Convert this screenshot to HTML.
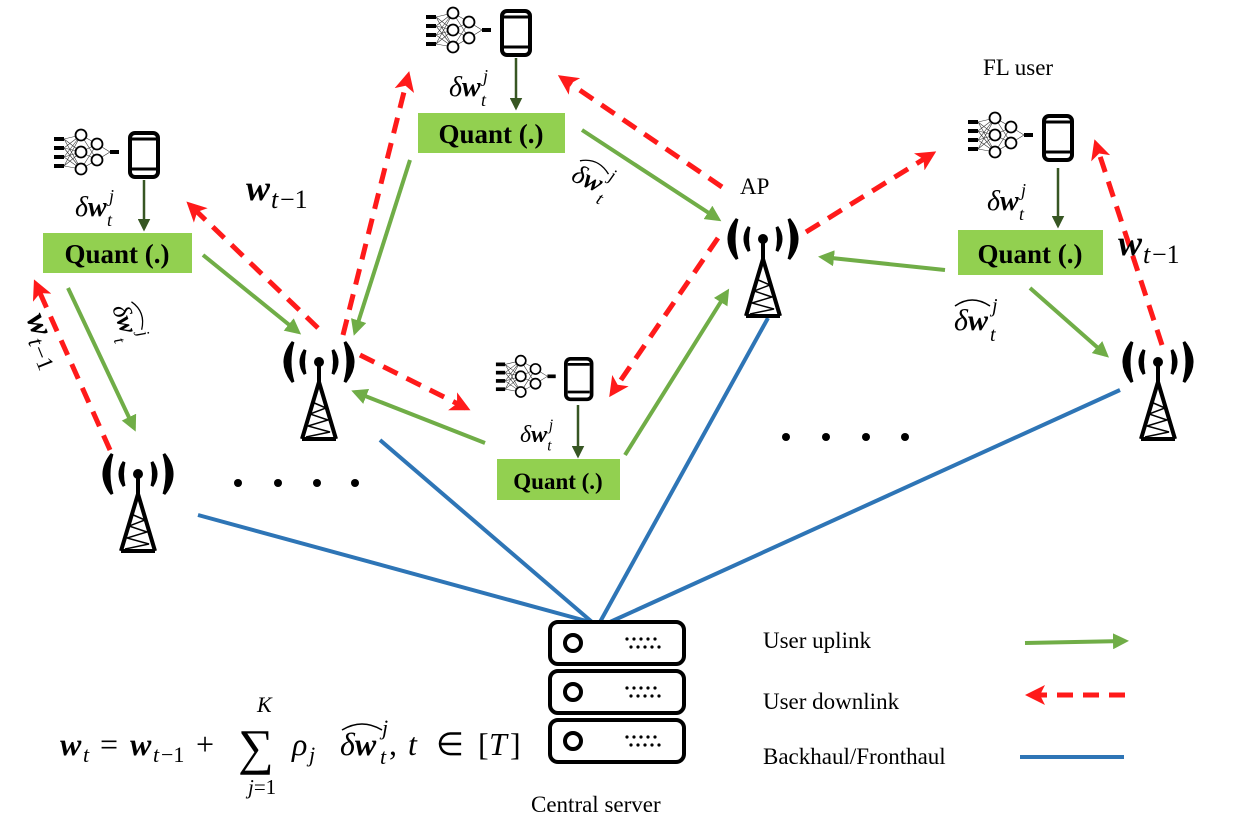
<!DOCTYPE html>
<html><head><meta charset="utf-8"><style>
html,body{margin:0;padding:0;background:#fff;}
svg{display:block;}
.q{font-family:"Liberation Serif",serif;font-weight:bold;fill:#000;}
.m{font-family:"Liberation Serif",serif;font-style:italic;fill:#000;}
.t{font-family:"Liberation Serif",serif;font-size:23px;fill:#000;}
</style></head><body>
<svg width="1236" height="840" viewBox="0 0 1236 840" xmlns="http://www.w3.org/2000/svg">
<defs>
<marker id="ga" markerWidth="4" markerHeight="4" refX="3" refY="2" orient="auto" markerUnits="strokeWidth"><path d="M0,0 L4,2 L0,4 Z" fill="#70ad47"/></marker>
<marker id="ra" markerWidth="4" markerHeight="4" refX="3" refY="2" orient="auto" markerUnits="strokeWidth"><path d="M0,0 L4,2 L0,4 L1,2 Z" fill="#ff1a1a"/></marker>
<marker id="da" markerWidth="5" markerHeight="5" refX="4" refY="2.5" orient="auto" markerUnits="strokeWidth"><path d="M0,0 L5,2.5 L0,5 Z" fill="#375623"/></marker>
<g id="ant">
  <circle cx="0" cy="0" r="5" fill="#000"/>
  <path d="M-14,-12 Q-22,0 -14,12 Q-17,0 -14,-12Z" fill="#000" stroke="#000" stroke-width="3"/>
  <path d="M14,-12 Q22,0 14,12 Q17,0 14,-12Z" fill="#000" stroke="#000" stroke-width="3"/>
  <path d="M-26,-20 Q-42,0 -26,20 Q-32,0 -26,-20Z" fill="#000" stroke="#000" stroke-width="3"/>
  <path d="M26,-20 Q42,0 26,20 Q32,0 26,-20Z" fill="#000" stroke="#000" stroke-width="3"/>
  <path d="M0,3 L0,20 M0,20 L-17,77 M0,20 L17,77 M-17,77 L17,77" stroke="#000" stroke-width="4" fill="none"/>
  <path d="M-7,40 L7,46 L-9,52 L9,58 L-11,64 L11,70 L-13,75" stroke="#000" stroke-width="1.5" fill="none"/>
</g>
<g id="ph">
  <rect x="2" y="2" width="28" height="44" rx="5" fill="#fff" stroke="#000" stroke-width="4"/>
  <line x1="4" y1="38" x2="28" y2="38" stroke="#000" stroke-width="3"/>
  <line x1="4" y1="8" x2="28" y2="8" stroke="#000" stroke-width="3"/>
  <circle cx="16" cy="42" r="2" fill="#fff"/>
  <g stroke="#333" stroke-width="0.6">
    <path d="M-64,8 L-47,4 M-64,17 L-47,4 M-64,26 L-47,4 M-64,35 L-47,4 M-64,8 L-47,21 M-64,17 L-47,21 M-64,26 L-47,21 M-64,35 L-47,21 M-64,8 L-47,38 M-64,17 L-47,38 M-64,26 L-47,38 M-64,35 L-47,38 M-47,4 L-31,13 M-47,21 L-31,13 M-47,38 L-31,13 M-47,4 L-31,29 M-47,21 L-31,29 M-47,38 L-31,29 M-31,13 L-18,21 M-31,29 L-18,21"/>
  </g>
  <g fill="#000"><rect x="-74" y="6" width="10" height="4"/><rect x="-74" y="15" width="10" height="4"/><rect x="-74" y="24" width="10" height="4"/><rect x="-74" y="33" width="10" height="4"/><rect x="-18" y="19" width="9" height="4"/></g>
  <g fill="#fff" stroke="#000" stroke-width="1.8"><circle cx="-47" cy="4" r="5.5"/><circle cx="-47" cy="21" r="5.5"/><circle cx="-47" cy="38" r="5.5"/><circle cx="-31" cy="13" r="5.5"/><circle cx="-31" cy="29" r="5.5"/></g>
</g>
<g id="srv">
  <rect x="0" y="0" width="134" height="42" rx="8" fill="#fff" stroke="#000" stroke-width="4"/>
  <circle cx="23" cy="21" r="8" fill="none" stroke="#000" stroke-width="4"/>
  <g fill="#000"><circle cx="77" cy="17" r="1.6"/><circle cx="84" cy="17" r="1.6"/><circle cx="91" cy="17" r="1.6"/><circle cx="98" cy="17" r="1.6"/><circle cx="105" cy="17" r="1.6"/><circle cx="81" cy="25" r="1.6"/><circle cx="88" cy="25" r="1.6"/><circle cx="95" cy="25" r="1.6"/><circle cx="102" cy="25" r="1.6"/><circle cx="109" cy="25" r="1.6"/></g>
</g>
<g id="dw">
  <text class="m" x="0" y="0" font-size="28">δ<tspan font-weight="bold">w</tspan></text>
  <text class="m" x="34" y="-14" font-size="18">j</text>
  <text class="m" x="32" y="10" font-size="18">t</text>
</g>
<g id="hdw">
  <text class="m" x="0" y="0" font-size="30">δ<tspan font-weight="bold">w</tspan></text>
  <text class="m" x="38" y="-18" font-size="20">j</text>
  <text class="m" x="36" y="11" font-size="20">t</text>
  <path d="M1,-24 Q18,-36 36,-24" stroke="#000" stroke-width="1.5" fill="none"/>
</g>
<g id="wt1">
  <text class="m" x="0" y="0" font-size="36" font-weight="bold">w</text>
  <text class="m" x="25" y="8" font-size="26">t</text>
  <text x="34" y="8" font-size="26" font-family="Liberation Serif, serif">−1</text>
</g>
</defs>

<g stroke="#2e75b6" stroke-width="4">
<line x1="198" y1="515" x2="590" y2="622"/>
<line x1="380" y1="440" x2="592" y2="622"/>
<line x1="768" y1="318" x2="600" y2="622"/>
<line x1="1120" y1="390" x2="610" y2="622"/>
</g>

<g stroke="#70ad47" stroke-width="4" marker-end="url(#ga)" fill="none">
<line x1="582" y1="130" x2="718" y2="219"/>
<line x1="410" y1="160" x2="355" y2="332"/>
<line x1="203" y1="255" x2="298" y2="332"/>
<line x1="68" y1="288" x2="134" y2="428"/>
<line x1="625" y1="455" x2="727" y2="292"/>
<line x1="485" y1="443" x2="355" y2="392"/>
<line x1="945" y1="270" x2="822" y2="257"/>
<line x1="1030" y1="288" x2="1106" y2="355"/>
</g>

<g stroke="#ff1a1a" stroke-width="5" stroke-dasharray="16,10" marker-end="url(#ra)" fill="none">
<line x1="343" y1="335" x2="408" y2="76"/>
<line x1="318" y1="328" x2="190" y2="205"/>
<line x1="110" y1="450" x2="36" y2="284"/>
<line x1="360" y1="355" x2="466" y2="408"/>
<line x1="722" y1="187" x2="562" y2="78"/>
<line x1="718" y1="238" x2="612" y2="393"/>
<line x1="806" y1="232" x2="932" y2="154"/>
<line x1="1162" y1="345" x2="1096" y2="144"/>
</g>

<use href="#ph" x="500" y="9"/>
<use href="#ph" x="128" y="131"/>
<use href="#ph" x="1042" y="114"/>
<use href="#ph" transform="translate(564,357) scale(0.92)"/>

<g stroke="#375623" stroke-width="2.5" marker-end="url(#da)">
<line x1="516" y1="58" x2="516" y2="108"/>
<line x1="144" y1="180" x2="144" y2="229"/>
<line x1="1058" y1="168" x2="1058" y2="226"/>
<line x1="578" y1="405" x2="578" y2="456"/>
</g>

<g fill="#92d050">
<rect x="418" y="113" width="147" height="40"/>
<rect x="43" y="233" width="149" height="40"/>
<rect x="958" y="230" width="145" height="45"/>
<rect x="497" y="459" width="123" height="41"/>
</g>
<text class="q" x="491" y="143" text-anchor="middle" font-size="27">Quant (.)</text>
<text class="q" x="117" y="263" text-anchor="middle" font-size="27">Quant (.)</text>
<text class="q" x="1030" y="263" text-anchor="middle" font-size="27">Quant (.)</text>
<text class="q" x="558" y="489" text-anchor="middle" font-size="23">Quant (.)</text>

<use href="#ant" x="763" y="239"/>
<use href="#ant" x="319" y="362"/>
<use href="#ant" x="138" y="474"/>
<use href="#ant" x="1158" y="362"/>

<use href="#srv" x="550" y="622"/>
<use href="#srv" x="550" y="671"/>
<use href="#srv" x="550" y="720"/>

<g fill="#000">
<circle cx="238" cy="483" r="4"/><circle cx="278" cy="483" r="4"/><circle cx="317" cy="483" r="4"/><circle cx="355" cy="483" r="4"/>
<circle cx="786" cy="437" r="4"/><circle cx="826" cy="437" r="4"/><circle cx="866" cy="437" r="4"/><circle cx="905" cy="437" r="4"/>
</g>

<use href="#dw" x="449" y="96"/>
<use href="#dw" x="75" y="216"/>
<use href="#dw" x="987" y="210"/>
<use href="#dw" transform="translate(520,442) scale(0.85)"/>
<use href="#wt1" x="246" y="200"/>
<use href="#wt1" x="1118" y="255"/>
<use href="#wt1" transform="translate(26,318) rotate(68) scale(0.9)"/>
<use href="#hdw" x="954" y="330"/>
<use href="#hdw" transform="translate(570,180) rotate(25) scale(0.9)"/>
<use href="#hdw" transform="translate(112,308) rotate(70) scale(0.85)"/>

<g class="m">
<text x="60" y="755" font-size="32" font-weight="bold">w</text>
<text x="83" y="762" font-size="22">t</text>
<text x="100" y="755" font-size="32" font-style="normal">=</text>
<text x="130" y="755" font-size="32" font-weight="bold">w</text>
<text x="153" y="762" font-size="22">t</text>
<text x="161" y="762" font-size="22" font-style="normal">−1</text>
<text x="196" y="755" font-size="32" font-style="normal">+</text>
<text x="238" y="764" font-size="50" font-style="normal">∑</text>
<text x="257" y="712" font-size="22">K</text>
<text x="248" y="794" font-size="21">j<tspan font-style="normal">=1</tspan></text>
<text x="292" y="755" font-size="32">ρ</text>
<text x="309" y="762" font-size="22">j</text>
<text x="340" y="755" font-size="32">δ<tspan font-weight="bold">w</tspan></text>
<text x="382" y="735" font-size="22">j</text>
<text x="380" y="764" font-size="22">t</text>
<text x="389" y="755" font-size="32" font-style="normal">,</text>
<path d="M342,730 Q362,718 382,730" stroke="#000" stroke-width="1.5" fill="none"/>
<text x="408" y="755" font-size="32">t</text>
<text x="436" y="755" font-size="32" font-style="normal">∈</text>
<text x="478" y="755" font-size="32" font-style="normal">[</text>
<text x="489" y="755" font-size="32">T</text>
<text x="510" y="755" font-size="32" font-style="normal">]</text>
</g>

<text class="t" x="740" y="194">AP</text>
<text class="t" x="983" y="75">FL user</text>
<text class="t" x="531" y="812">Central server</text>
<text class="t" x="763" y="648">User uplink</text>
<text class="t" x="763" y="709">User downlink</text>
<text class="t" x="763" y="764">Backhaul/Fronthaul</text>

<line x1="1025" y1="643" x2="1125" y2="641" stroke="#70ad47" stroke-width="4" marker-end="url(#ga)"/>
<line x1="1125" y1="695" x2="1030" y2="695" stroke="#ff1a1a" stroke-width="5" stroke-dasharray="16,10" marker-end="url(#ra)"/>
<line x1="1020" y1="757" x2="1124" y2="757" stroke="#2e75b6" stroke-width="4"/>
</svg>
</body></html>
